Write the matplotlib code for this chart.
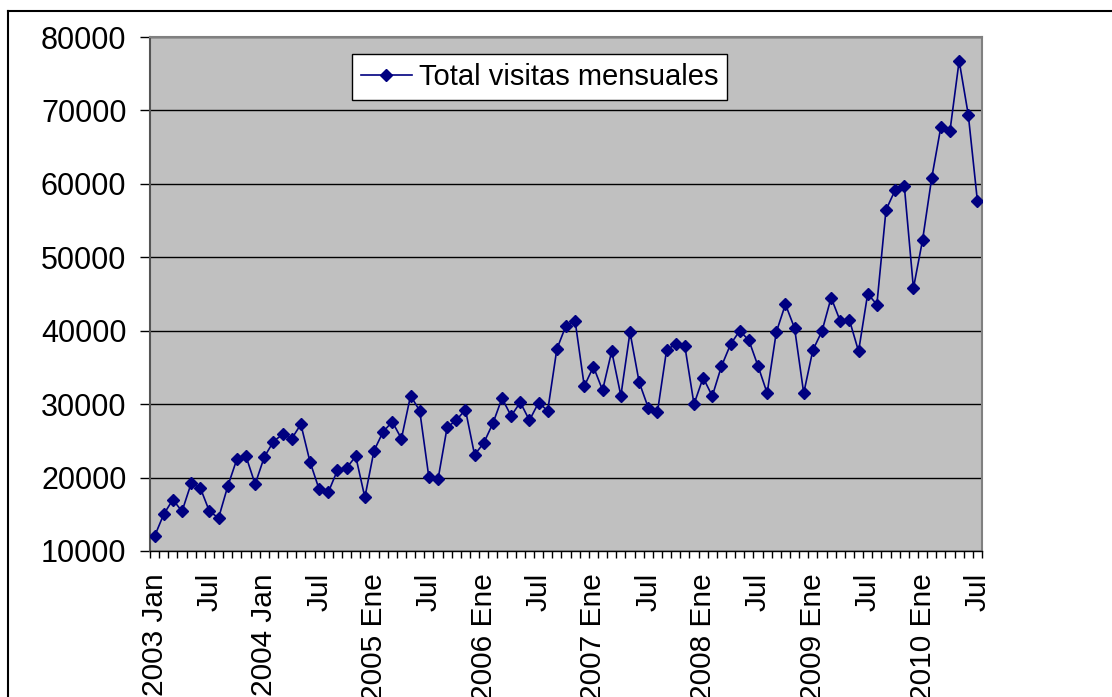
import matplotlib
matplotlib.use("Agg")
import matplotlib.pyplot as plt
from matplotlib.lines import Line2D

plt.rcParams['font.family'] = ['Liberation Sans', 'DejaVu Sans']

# Monthly visits, Jan 2003 .. Jul 2010
visits_2003 = [12000, 15000, 17000, 15400, 19200, 18600, 15400, 14500, 18800, 22500, 22900, 19100]
visits_2004 = [22800, 24900, 25900, 25300, 27250, 22150, 18400, 18000, 21000, 21300, 22900, 17300]
visits_2005 = [23650, 26250, 27600, 25300, 31150, 29100, 20050, 19750, 26850, 27800, 29250, 23100]
visits_2006 = [24700, 27370, 30800, 28400, 30250, 27800, 30200, 29100, 37500, 40700, 41300, 32450]
visits_2007 = [35100, 31900, 37200, 31150, 39800, 33000, 29500, 28900, 37350, 38200, 37900, 30000]
visits_2008 = [33600, 31100, 35150, 38150, 40000, 38700, 35200, 31500, 39800, 43600, 40350, 31500]
visits_2009 = [37350, 39950, 44500, 41300, 41450, 37200, 45050, 43550, 56450, 59150, 59750, 45800]
visits_2010 = [52350, 60800, 67750, 67250, 76750, 69400, 57650]

series_label = "Total visitas mensuales"
tick_labels = ["2003 Jan", "Jul", "2004 Jan", "Jul", "2005 Ene", "Jul", "2006 Ene", "Jul",
               "2007 Ene", "Jul", "2008 Ene", "Jul", "2009 Ene", "Jul", "2010 Ene", "Jul"]
y_ticks = [10000, 20000, 30000, 40000, 50000, 60000, 70000, 80000]

values = (visits_2003 + visits_2004 + visits_2005 + visits_2006 +
          visits_2007 + visits_2008 + visits_2009 + visits_2010)
x = list(range(len(values)))

W, H = 1112, 697
fig = plt.figure(figsize=(W / 100, H / 100), dpi=100)
ax = fig.add_axes([150 / W, 1 - 551 / H, 832 / W, 514 / H])
ax.set_facecolor('#C0C0C0')

ax.plot(x, values, color='#000080', linewidth=1.2, marker='D', markersize=6.3,
        markerfacecolor='#000080', markeredgecolor='#000080', label=series_label, zorder=3)

ax.set_ylim(10000, 80000)
ax.set_yticks(y_ticks)
ax.set_yticklabels([str(v) for v in y_ticks], fontsize=22)
ax.yaxis.grid(True, color='black', linewidth=1.0, zorder=1)
ax.set_axisbelow(True)

ax.set_xlim(-0.5, len(values) - 0.5)
ax.set_xticks([i - 0.5 for i in range(len(values) + 1)])
ax.set_xticklabels([])
ax.set_xticks(list(range(0, len(values), 6)), minor=True)
ax.set_xticklabels(tick_labels, minor=True, rotation=90, fontsize=21.5, va='top', ha='center')
ax.tick_params(axis='x', which='major', length=5, width=1, color='black', direction='out')
ax.tick_params(axis='x', which='minor', length=0, pad=16)
ax.tick_params(axis='y', length=7, width=1, pad=10, color='black')

for side in ['top', 'right']:
    ax.spines[side].set_color('#808080')
    ax.spines[side].set_linewidth(1.5)
ax.spines['left'].set_color('#555555')
ax.spines['left'].set_linewidth(1.5)
ax.spines['bottom'].set_color('black')
ax.spines['bottom'].set_linewidth(1.0)

leg = ax.legend(loc='upper left', bbox_to_anchor=(352 / W, 1 - 54 / H),
                bbox_transform=fig.transFigure, fontsize=21, frameon=True,
                fancybox=False, edgecolor='black', framealpha=1, borderpad=0.3,
                handlelength=1.75, handletextpad=0.25, borderaxespad=0)
leg.get_frame().set_linewidth(1.0)

# outer chart border (top and left visible)
fig.add_artist(Line2D([8 / W, 8 / W], [1 - 11 / H, 0], transform=fig.transFigure,
                      color='black', linewidth=1.5))
fig.add_artist(Line2D([8 / W, 1], [1 - 11 / H, 1 - 11 / H], transform=fig.transFigure,
                      color='black', linewidth=1.5))

fig.savefig('out.png', dpi=100)
